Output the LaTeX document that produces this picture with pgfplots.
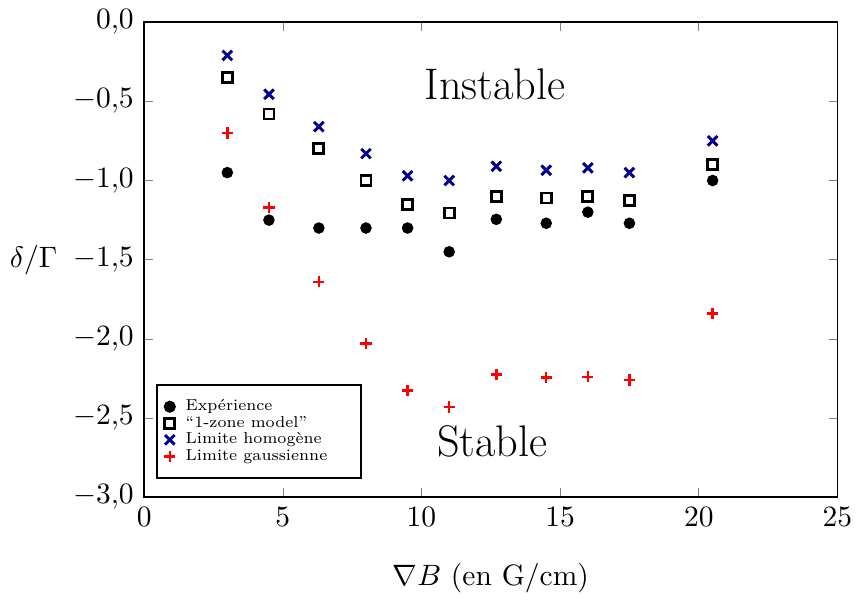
\documentclass[border=0pt]{standalone}
\usepackage{graphicx}
\usepackage{pgfplots}
\pgfplotsset{compat=1.18}
\definecolor{navyb}{rgb}{0,0,0.55}
\newcommand\lgt[1]{\kern1.5pt\scalebox{0.77}{\strut #1}\kern7pt\rule{0pt}{0pt}}
\begin{document}
\begin{tikzpicture}
\begin{axis}[
  scale only axis,
  width=235pt, height=161pt,
  xmin=0, xmax=25, ymin=-3, ymax=0,
  xtick={0,5,10,15,20,25},
  ytick={0,-0.5,-1,-1.5,-2,-2.5,-3},
  tick align=inside,
  major tick length=3pt,
  /pgf/number format/.cd, use comma, fixed, fixed zerofill, precision=1,
  /pgfplots/.cd,
  xticklabel style={/pgf/number format/precision=0, /pgf/number format/fixed zerofill=false},
  xlabel={$\nabla B$ (en G/cm)},
  ylabel={$\delta/\Gamma$},
  ylabel style={rotate=-90, at={(ticklabel cs:0.5)}, anchor=east, xshift=1.5pt},
  xlabel style={yshift=-5.5pt},
  legend style={at={(0.017,0.038)}, anchor=south west, font=\scriptsize, draw=black, semithick, row sep=-4.2pt, inner xsep=2.5pt, inner ysep=2.5pt},
  legend cell align=left,
  every axis plot/.append style={only marks},
  axis line style={semithick},
]
\addplot[mark=*, mark size=1.75pt, black] coordinates {
(3,-0.95) (4.5,-1.25) (6.3,-1.30) (8,-1.30) (9.5,-1.30) (11,-1.45) (12.7,-1.245) (14.5,-1.27) (16,-1.20) (17.5,-1.27) (20.5,-1.00)};
\addlegendentry{\lgt{Expérience}}
\addplot[mark=square, mark size=1.7pt, black, line width=0.95pt] coordinates {
(3,-0.35) (4.5,-0.58) (6.3,-0.80) (8,-1.00) (9.5,-1.15) (11,-1.205) (12.7,-1.10) (14.5,-1.11) (16,-1.10) (17.5,-1.125) (20.5,-0.90)};
\addlegendentry{\lgt{``1-zone model''}}
\addplot[mark=x, mark size=2.3pt, navyb, line width=1pt] coordinates {
(3,-0.21) (4.5,-0.455) (6.3,-0.66) (8,-0.83) (9.5,-0.97) (11,-1.00) (12.7,-0.91) (14.5,-0.935) (16,-0.92) (17.5,-0.95) (20.5,-0.75)};
\addlegendentry{\lgt{Limite homogène}}
\addplot[mark=+, mark size=1.9pt, red, line width=0.85pt] coordinates {
(3,-0.70) (4.5,-1.17) (6.3,-1.64) (8,-2.03) (9.5,-2.325) (11,-2.43) (12.7,-2.225) (14.5,-2.245) (16,-2.24) (17.5,-2.26) (20.5,-1.84)};
\addlegendentry{\lgt{Limite gaussienne}}
\node[font=\fontsize{15}{18}\selectfont] at (axis cs:12.65,-0.39) {Instable};
\node[font=\fontsize{15}{18}\selectfont] at (axis cs:12.55,-2.65) {Stable};
\end{axis}
\end{tikzpicture}
\end{document}
